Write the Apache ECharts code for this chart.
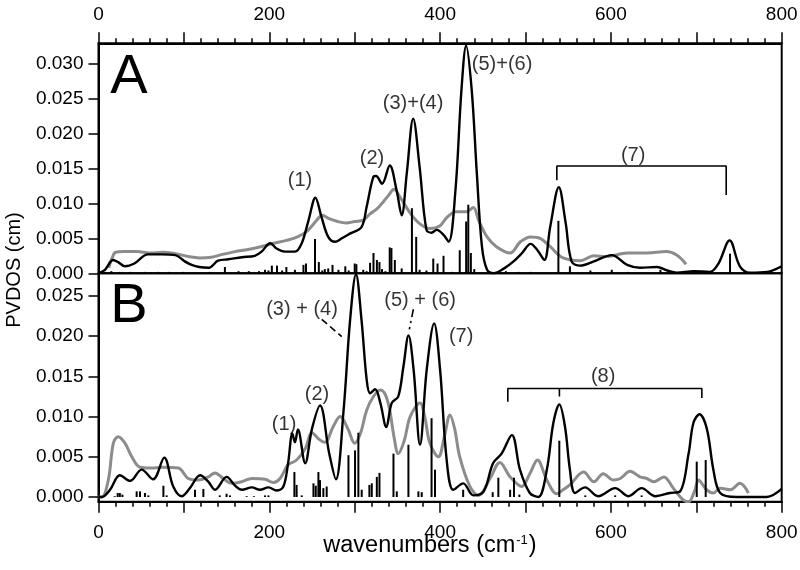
<!DOCTYPE html>
<html><head><meta charset="utf-8">
<script src="https://cdn.jsdelivr.net/npm/echarts@6/dist/echarts.min.js"></script>
<style>html,body{margin:0;padding:0;background:#fff}#c{width:800px;height:570px}</style>
</head><body><div id="c"></div>
<script>
// ---- Panel A data (wavenumber, PVDOS) ----
const blackA = [[0,0],[7.6,0.0005],[17,0.0019],[23,0.0016],[31,0.0010],[42,0.0014],[58,0.0027],[74,0.0027],[90,0.0026],[101,0.0017],[109,0.0012],[118,0.0009],[129,0.0008],[140,0.0018],[152,0.0020],[168,0.0023],[183,0.0025],[191,0.0031],[201,0.0043],[209,0.0035],[218,0.0031],[230,0.0031],[238,0.0043],[246,0.0076],[254,0.0108],[261,0.0081],[269,0.0052],[277,0.0045],[285,0.0050],[295,0.0057],[308,0.0066],[314,0.0095],[322,0.0138],[325,0.0139],[332,0.0128],[341,0.0154],[349,0.0119],[355,0.0083],[361,0.0143],[368.5,0.0221],[376,0.0152],[384,0.0062],[390,0.0058],[396,0.0062],[404,0.0055],[410,0.0045],[418,0.0119],[425,0.0262],[430.5,0.0325],[437,0.0262],[443,0.0143],[449,0.0038],[455,0.0005],[463,0.0000],[475,0.0007],[486,0.0017],[496,0.0029],[506,0.0042],[514,0.0033],[522,0.0019],[529,0.0067],[539,0.0123],[547,0.0072],[554,0.0017],[564,0.0011],[580,0.0017],[601,0.0026],[619,0.0012],[634,0.0008],[654,0.0009],[666,0.0004],[677,0.0001],[697,0.0003],[716,0.0002],[726,0.0014],[739,0.0047],[751,0.0010],[763,0.0001],[783,0.0002],[800,0.0010]];
const grayA = [[12,0.0008],[16,0.0022],[20,0.0030],[30,0.0031],[45,0.0031],[60,0.0029],[75,0.0030],[90,0.0028],[105,0.0024],[118,0.0022],[132,0.0023],[145,0.0027],[160,0.0031],[175,0.0034],[190,0.0038],[205,0.0043],[220,0.0047],[233,0.0052],[245,0.0061],[255,0.0075],[262,0.0083],[270,0.0078],[280,0.0074],[290,0.0072],[300,0.0074],[310,0.0076],[318,0.0085],[326,0.0092],[334,0.0103],[340,0.0112],[346,0.0120],[353,0.0109],[365,0.0086],[376,0.0071],[388,0.0064],[400,0.0068],[408,0.0080],[419,0.0088],[431,0.0088],[439,0.0094],[445,0.0076],[455,0.0052],[466,0.0038],[482,0.0029],[494,0.0045],[506,0.0052],[517,0.0050],[529,0.0038],[541,0.0024],[553,0.0019],[564,0.0018],[580,0.0025],[595,0.0024],[619,0.0029],[642,0.0029],[665,0.0031],[677,0.0026],[688,0.0013]];
const sticksA = [[8,0.0002],[15,0.0003],[25,0.0002],[37,0.0002],[48,0.0001],[54,0.0002],[62,0.0001],[70,0.0002],[82,0.0002],[99,0.0002],[112,0.0001],[130,0.0002],[148,0.0009],[164,0.0003],[176,0.0003],[188,0.0003],[195,0.0005],[199,0.0004],[203,0.0011],[209,0.0011],[215,0.0004],[220,0.0009],[230,0.0005],[240,0.0012],[243,0.0014],[253.5,0.0049],[258,0.0016],[262,0.0004],[265,0.0006],[269,0.0007],[274,0.0012],[281,0.0005],[289,0.0010],[293,0.0004],[300,0.0014],[302,0.0013],[310,0.0005],[314,0.0003],[318,0.0015],[322,0.0029],[326,0.0019],[329,0.0016],[332,0.0006],[336,0.0003],[341,0.0037],[343,0.0036],[347,0.0019],[355,0.0007],[367,0.0093],[372,0.0052],[376,0.0005],[384,0.0004],[392,0.0021],[397,0.0014],[404,0.0025],[414,0.0002],[423,0.0033],[430.5,0.0074],[433,0.0098],[436,0.0029],[440,0.0006],[465,0.0002],[477,0.0003],[492,0.0002],[506,0.0002],[538.5,0.0075],[552,0.0010],[576,0.0004],[601,0.0005],[620,0.0002],[658,0.0005],[739.5,0.0028]];
// ---- Panel B data ----
const blackB = [[0,0],[4,0.0000],[13.5,0.0009],[25,0.0027],[37,0.0020],[50.5,0.0034],[64,0.0022],[77,0.0049],[87.5,0.0013],[97.5,0.0001],[107,0.0011],[119,0.0027],[128.5,0.0019],[136.5,0.0009],[150,0.0025],[160,0.0014],[168,0.0009],[179.5,0.0012],[189,0.0009],[199,0.0012],[208.5,0.0008],[216.5,0.0013],[222,0.0042],[227,0.0079],[230,0.0068],[233.5,0.0084],[242,0.0042],[250,0.0085],[259.4,0.0114],[270,0.0055],[278,0.0022],[287,0.0108],[294.6,0.0220],[301.5,0.0277],[308,0.0220],[314,0.0146],[318,0.0129],[324,0.0134],[330,0.0117],[337,0.0087],[343.4,0.0117],[351,0.0125],[357,0.0162],[363,0.0201],[369,0.0158],[376.5,0.0065],[384.3,0.0158],[393,0.0216],[400,0.0158],[407.7,0.0046],[415.5,0.0009],[427,0.0017],[439,0.0002],[451,0.0007],[462,0.0042],[472,0.0054],[484,0.0077],[493.5,0.0034],[505,0.0005],[515,0.0000],[525,0.0034],[532.6,0.0092],[539.6,0.0115],[546.3,0.0087],[552,0.0034],[558,0.0005],[569.7,0.0012],[585,0.0001],[605,0.0011],[620.5,0.0001],[636,0.0011],[652,0.0001],[669,0.0005],[681,0.0007],[691,0.0054],[696.6,0.0092],[703.7,0.0103],[712.3,0.0085],[720,0.0034],[728,0.0005],[747,0.0000],[782.5,0.0000],[800,0.0010]];
const grayB = [[0,0],[4,0.0000],[11.5,0.0021],[17.4,0.0067],[23,0.0075],[31,0.0067],[39,0.0050],[48.6,0.0037],[62,0.0036],[74,0.0037],[93.5,0.0036],[105,0.0023],[117,0.0021],[128.6,0.0025],[136.4,0.0030],[146,0.0023],[156,0.0017],[167.7,0.0019],[179.4,0.0023],[195,0.0022],[204.8,0.0018],[212.6,0.0023],[222,0.0040],[232,0.0046],[242,0.0060],[250,0.0080],[258,0.0072],[265,0.0068],[275,0.0088],[283,0.0100],[292,0.0085],[300,0.0067],[307,0.0080],[314,0.0108],[322,0.0125],[330,0.0133],[336,0.0127],[341,0.0108],[346,0.0075],[351,0.0054],[358,0.0070],[365,0.0100],[376.5,0.0117],[382,0.0100],[388,0.0067],[398,0.0050],[405,0.0075],[411.6,0.0102],[417,0.0085],[423,0.0050],[435,0.0013],[445,0.0002],[458.5,0.0023],[470,0.0043],[482,0.0025],[495.6,0.0013],[505,0.0029],[514,0.0046],[525,0.0021],[536.5,0.0004],[544,0.0009],[552,0.0015],[568,0.0031],[580,0.0019],[591,0.0029],[603,0.0021],[611,0.0023],[622.5,0.0032],[634,0.0025],[642,0.0023],[650,0.0019],[662,0.0025],[673,0.0011],[685,-0.0004],[691,-0.0006],[698.5,0.0009],[702.5,0.0021],[712,0.0009],[720,0.0005],[728,0.0011],[740,0.0009],[751,0.0017],[761,0.0005]];
const sticksB = [[19,0.0001],[22.5,0.0005],[25,0.0005],[28,0.0003],[44.7,0.0007],[48.6,0.0007],[54.4,0.0005],[58.4,0.0002],[76,0.0014],[79.8,0.0002],[113,0.0009],[122.8,0.0010],[142,0.0002],[150,0.0004],[154,0.0002],[173.5,0.0001],[182,0.0001],[195,0.0002],[199,0.0002],[229.4,0.0031],[232,0.0015],[238,0.0002],[251.7,0.0017],[254.4,0.0014],[257.5,0.0031],[259.4,0.0021],[263.3,0.0011],[267.2,0.0013],[292.7,0.0052],[300.4,0.0058],[304.3,0.0080],[308.2,0.0009],[317.2,0.0015],[320,0.0017],[325.9,0.0025],[329,0.0030],[345.4,0.0054],[349.3,0.0007],[362.9,0.0065],[374.6,0.0007],[378.5,0.0006],[390,0.0098],[394,0.0034],[427,0.0009],[461.6,0.0006],[468.2,0.0024],[482,0.0009],[486.5,0.0024],[492.8,0.0003],[539.6,0.0070],[570,0.0002],[605,0.0002],[636,0.0002],[700.5,0.0044],[711,0.0046]];
// ---- ticks / labels ----
const xLabels = [0,200,400,600,800];
const yTicksA = [0,0.005,0.010,0.015,0.020,0.025,0.030];
const yTicksB = [0,0.005,0.010,0.015,0.020,0.025];
// ---- annotations (data coordinates) ----
const annA = [['(1)',236,0.01333],['(2)',320.3,0.01647],['(3)+(4)',368.4,0.0242],['(5)+(6)',472.6,0.02976],['(7)',626,0.01676]];
const annB = [['(1)',217.3,0.00896],['(2)',255.9,0.01269],['(3) + (4)',238.3,0.02338],['(5) + (6)',376.6,0.0245],['(7)',424.6,0.02002],['(8)',590.9,0.01493]];
const bracketA = [[536.7,0.0133],[536.7,0.01533],[735,0.01533],[735,0.0112]];
const bracketB = [[479.3,0.01185],[479.3,0.0135],[706.5,0.0135],[706.5,0.0123]];
const bracketBmid = [[539.7,0.0135],[539.7,0.0125]];
const leaderB34 = [[261.4,0.0221],[284.8,0.01995]];
const leaderB56 = [[368.7,0.02335],[364,0.02086]];

const FONT = 'Liberation Sans, Arial, Helvetica, sans-serif';
const chart = echarts.init(document.getElementById('c'));
function xAx(gi, pos){
  return {type:'value', gridIndex:gi, min:0, max:800, interval:100, position:pos,
    axisLine:{show:true,onZero:false,lineStyle:{color:'#000',width:2}},
    axisTick:{show:true,inside:false,length:11,lineStyle:{color:'#000',width:1.5}},
    minorTick:{show:true,splitNumber:5,length:5,lineStyle:{color:'#000',width:1.5}},
    axisLabel:{show:true,customValues:xLabels,color:'#000',fontSize:19,fontFamily:FONT,margin:pos==='top'?19:22},
    splitLine:{show:false}};
}
function yAx(gi, min, max, ticks){
  return {type:'value', gridIndex:gi, min:min, max:max,
    axisLine:{show:true,lineStyle:{color:'#000',width:2}},
    axisTick:{show:true,customValues:ticks,length:10,lineStyle:{color:'#000',width:1.5}},
    axisLabel:{customValues:ticks,formatter:v=>v.toFixed(3),color:'#000',fontSize:19,fontFamily:FONT,margin:15},
    splitLine:{show:false}};
}
function lineS(data, xi, color, width, z, extra){
  return Object.assign({type:'line', xAxisIndex:xi, yAxisIndex:xi, data:data, showSymbol:false, symbol:'none',
    smooth:0.35, lineStyle:{color:color,width:width}, z:z, silent:true, animation:false}, extra||{});
}
function textS(arr, xi){
  return {type:'scatter', xAxisIndex:xi, yAxisIndex:xi, symbolSize:1, itemStyle:{color:'rgba(0,0,0,0)'},
    data:arr.map(a=>({value:[a[1],a[2]], name:a[0]})), silent:true, animation:false, z:10,
    label:{show:true, position:'inside', formatter:p=>p.name, color:'#000', fontSize:20, fontFamily:FONT}};
}
const option = {
  backgroundColor:'#fff',
  animation:false,
  grid:[
    {left:98.5, top:43.3, width:683.2, height:230, show:true, borderColor:'#000', borderWidth:2, outerBoundsMode:'none'},
    {left:98.5, top:273.3, width:683.2, height:228.4, show:true, borderColor:'#000', borderWidth:2, outerBoundsMode:'none'}
  ],
  xAxis:[xAx(0,'top'), xAx(1,'bottom')],
  yAxis:[yAx(0,0,0.032857,yTicksA), yAx(1,-0.000585,0.027823,yTicksB)],
  series:[
    lineS(grayA,0,'#8c8c8c',3,2),
    {type:'bar', xAxisIndex:0, yAxisIndex:0, data:sticksA, barWidth:2, itemStyle:{color:'#000'}, z:3, silent:true},
    lineS(blackA,0,'#000',2.4,4),
    lineS(grayB,1,'#8c8c8c',3,2),
    {type:'bar', xAxisIndex:1, yAxisIndex:1, data:sticksB, barWidth:2, itemStyle:{color:'#000'}, z:3, silent:true},
    lineS(blackB,1,'#000',2.4,4),
    lineS(bracketA,0,'#000',1.6,5,{smooth:false}),
    lineS(bracketB,1,'#000',1.6,5,{smooth:false}),
    lineS(bracketBmid,1,'#000',1.6,5,{smooth:false}),
    lineS(leaderB34,1,'#000',1.6,5,{smooth:false,lineStyle:{color:'#000',width:1.6,type:[7,4]}}),
    lineS(leaderB56,1,'#000',1.6,5,{smooth:false,lineStyle:{color:'#000',width:1.6,type:[8,4,2,4]}}),
    textS(annA,0),
    textS(annB,1)
  ],
  graphic:[
    {type:'text', x:129, y:78, style:{text:'A', font:'56px '+FONT, fill:'#000', textAlign:'center', textVerticalAlign:'middle'}},
    {type:'text', x:129, y:307, style:{text:'B', font:'56px '+FONT, fill:'#000', textAlign:'center', textVerticalAlign:'middle'}},
    {type:'text', x:14, y:270, rotation:Math.PI/2, style:{text:'PVDOS (cm)', font:'20px '+FONT, fill:'#000', textAlign:'center', textVerticalAlign:'middle'}},
    {type:'text', x:430, y:546, style:{text:'{a|wavenumbers (cm}{s|-1}{a|)}', fill:'#000', textAlign:'center', textVerticalAlign:'middle',
      rich:{a:{fontSize:23.5, fontFamily:FONT, fill:'#000', verticalAlign:'bottom'}, s:{fontSize:13, fontFamily:FONT, fill:'#000', verticalAlign:'top', padding:[0,1,0,1]}}}}
  ]
};
chart.setOption(option);
</script>
</body></html>
